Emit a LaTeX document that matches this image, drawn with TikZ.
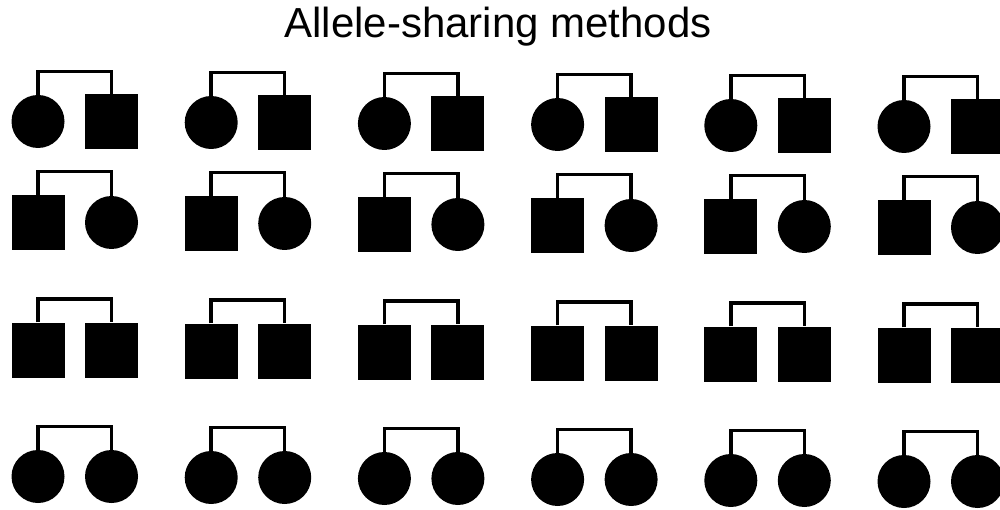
\documentclass[tikz,border=0pt]{standalone}
\usepackage{fontspec}
\setmainfont{Liberation Sans}
\begin{document}
\begin{tikzpicture}[x=1pt,y=1pt,
  fem/.style={circle,fill=black,minimum size=53pt,inner sep=0pt},
  mal/.style={rectangle,fill=black,minimum width=53pt,minimum height=55pt,inner sep=0pt},
  sib/.style={line width=3.5pt}]
\useasboundingbox (0,0) rectangle (1000,-510);
\clip (0,0) rectangle (1000,-510);
\node[anchor=base,font=\fontsize{42}{50}\selectfont,inner sep=0pt] (title) at (498,-38) {Allele-sharing methods};
\foreach \r/\yy/\L/\R in {1/121.5/fem/mal, 2/222.5/mal/fem, 3/350/mal/mal, 4/476.5/fem/fem}{
  \foreach \i in {0,...,5}{
    \pgfmathsetmacro\xl{38+173.2*\i}
    \pgfmathsetmacro\xr{\xl+73.5}
    \pgfmathsetmacro\yc{-\yy-1.0*\i}
    \node[\L] (L\r-\i) at (\xl,\yc) {};
    \node[\R] (R\r-\i) at (\xr,\yc) {};
    \draw[sib] (L\r-\i.north) -- ++(0,23.5) -| (R\r-\i.north);
  }
}
\end{tikzpicture}
\end{document}
